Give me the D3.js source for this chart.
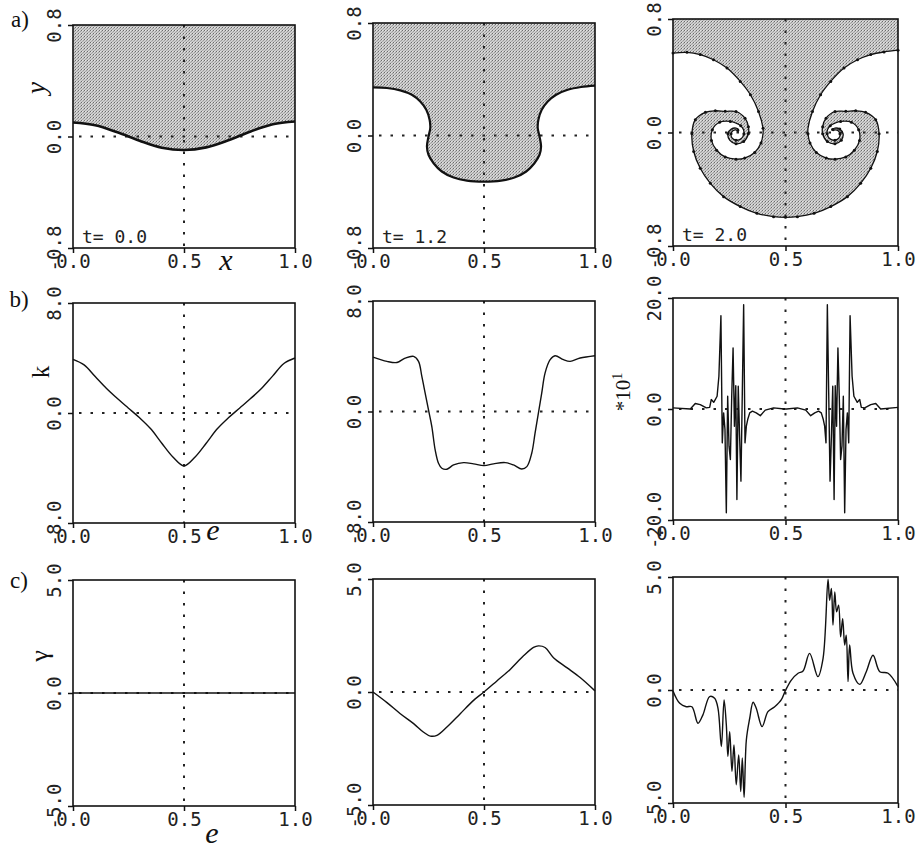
<!DOCTYPE html>
<html>
<head>
<meta charset="utf-8">
<script src="https://cdn.jsdelivr.net/npm/d3@7/dist/d3.min.js"></script>
<style>
  body { margin: 0; background: #fff; }
  svg { display: block; }
  .tick text { font-family: "DejaVu Sans Mono", monospace; font-size: 19px; fill: #222; }
  .lab { font-family: "Liberation Serif", serif; fill: #111; }
</style>
</head>
<body>
<svg id="fig" width="920" height="849"></svg>
<script>
// ---- values ----
var xTicks = ['0.0', '0.5', '1.0'];
var yTicksA = ['-0.8', '0.0', '0.8'];
var yTicksB = ['-8.0', '0.0', '8.0'];
var yTicksB3 = ['-20.0', '0.0', '20.0'];
var yTicksC = ['-5.0', '0.0', '5.0'];
var times = ['t= 0.0', 't= 1.2', 't= 2.0'];

// row a: interface (x, y)
var a1 = [[0, 0.10], [0.1, 0.08], [0.2, 0.03], [0.3, -0.03], [0.4, -0.08], [0.5, -0.097],
  [0.6, -0.078], [0.7, -0.027], [0.8, 0.036], [0.9, 0.088], [1, 0.108]];

var a2 = [[0, 0.342], [0.063, 0.338], [0.123, 0.321], [0.175, 0.290], [0.213, 0.242], [0.240, 0.183],
  [0.255, 0.112], [0.258, 0.053], [0.250, -0.007], [0.243, -0.078], [0.250, -0.137], [0.273, -0.197],
  [0.310, -0.256], [0.363, -0.299], [0.423, -0.321], [0.500, -0.328], [0.577, -0.321], [0.637, -0.299],
  [0.690, -0.256], [0.727, -0.197], [0.750, -0.137], [0.757, -0.078], [0.750, -0.007], [0.742, 0.053],
  [0.745, 0.112], [0.760, 0.183], [0.787, 0.242], [0.825, 0.290], [0.877, 0.325], [0.937, 0.345], [1, 0.355]];

var a3 = [[0.000, 0.560], [0.062, 0.565], [0.121, 0.549], [0.180, 0.513], [0.240, 0.454], [0.299, 0.360],
  [0.344, 0.266], [0.380, 0.148], [0.400, 0.030],
  [0.400, -0.009], [0.391, -0.074], [0.363, -0.141], [0.319, -0.180], [0.280, -0.188], [0.232, -0.172],
  [0.194, -0.125], [0.171, -0.056], [0.175, 0.020], [0.207, 0.072], [0.255, 0.078], [0.280, 0.066],
  [0.301, 0.048], [0.313, 0.021], [0.315, -0.009], [0.302, -0.045], [0.280, -0.054], [0.262, -0.038],
  [0.258, -0.009], [0.266, 0.013], [0.280, 0.019], [0.288, 0.014],
  [0.291, 0.021], [0.280, 0.031], [0.259, 0.024], [0.244, -0.009], [0.252, -0.054], [0.280, -0.080],
  [0.314, -0.064], [0.335, -0.009], [0.335, 0.041], [0.320, 0.101], [0.280, 0.148], [0.232, 0.149],
  [0.188, 0.153], [0.144, 0.142], [0.099, 0.090], [0.084, -0.009],
  [0.092, -0.134], [0.121, -0.252], [0.166, -0.358], [0.225, -0.452], [0.299, -0.522], [0.373, -0.570],
  [0.447, -0.593], [0.500, -0.598],
  [0.553, -0.593], [0.627, -0.570], [0.701, -0.522], [0.775, -0.452], [0.834, -0.358], [0.879, -0.252],
  [0.908, -0.134],
  [0.916, -0.009], [0.901, 0.090], [0.856, 0.142], [0.812, 0.153], [0.768, 0.149], [0.720, 0.148],
  [0.680, 0.101], [0.665, 0.041], [0.665, -0.009], [0.686, -0.064], [0.720, -0.080], [0.748, -0.054],
  [0.756, -0.009], [0.741, 0.024], [0.720, 0.031], [0.709, 0.021],
  [0.712, 0.014], [0.720, 0.019], [0.734, 0.013], [0.742, -0.009], [0.738, -0.038], [0.720, -0.054],
  [0.698, -0.045], [0.685, -0.009], [0.687, 0.021], [0.699, 0.048], [0.720, 0.066], [0.745, 0.078],
  [0.793, 0.072], [0.825, 0.020], [0.829, -0.056], [0.806, -0.125], [0.768, -0.172], [0.720, -0.188],
  [0.681, -0.180], [0.637, -0.141], [0.609, -0.074], [0.600, -0.009],
  [0.600, 0.030], [0.620, 0.148], [0.656, 0.266], [0.701, 0.360], [0.760, 0.454], [0.820, 0.513],
  [0.879, 0.549], [0.938, 0.568], [1.000, 0.580]];

// row b: curvature k against e
var b1e = [0, .05, .1, .15, .2, .25, .3, .35, .4, .45, .5, .55, .6, .65, .7, .75, .8, .85, .9, .95, 1];
var b1k = [3.9, 3.5, 2.65, 1.8, 1.05, 0.35, -0.35, -1.15, -2.2, -3.2, -3.85, -3.2, -2.2, -1.15, -0.35,
  0.35, 1.05, 1.8, 2.7, 3.6, 4.0];

var b2e = [0, 0.063, 0.108, 0.145, 0.183, 0.205, 0.220, 0.235, 0.250, 0.265, 0.280, 0.295, 0.310, 0.333,
  0.363, 0.408, 0.453, 0.5, 0.543, 0.595, 0.633, 0.67, 0.693, 0.715, 0.73, 0.745, 0.76, 0.775, 0.798,
  0.82, 0.858, 0.888, 0.933, 1.0];
var b2k = [3.94, 3.63, 3.55, 3.87, 3.99, 3.63, 2.54, 1.33, 0.12, -1.09, -2.78, -3.75, -4.11, -4.18,
  -3.87, -3.70, -3.79, -3.92, -3.79, -3.70, -3.87, -4.16, -3.99, -3.02, -1.57, -0.12, 1.33, 2.78, 3.75,
  4.04, 3.75, 3.63, 3.87, 4.04];

// b3 is in units of 10^1
var b3e = [0.000, 0.077, 0.099, 0.121, 0.148, 0.163, 0.170, 0.181, 0.196, 0.204, 0.213, 0.219, 0.225,
  0.231, 0.237, 0.243, 0.249, 0.255, 0.261, 0.267, 0.273, 0.279, 0.284, 0.290, 0.296, 0.302, 0.308,
  0.314, 0.320, 0.326, 0.332, 0.341, 0.353, 0.370, 0.388, 0.410, 0.447, 0.495,
  0.505, 0.553, 0.590, 0.612, 0.630, 0.647, 0.659, 0.668, 0.674, 0.680, 0.686, 0.692, 0.698, 0.704,
  0.710, 0.716, 0.721, 0.727, 0.733, 0.739, 0.745, 0.751, 0.757, 0.763, 0.769, 0.775, 0.781, 0.787,
  0.796, 0.804, 0.819, 0.830, 0.837, 0.852, 0.879, 0.901, 0.923, 1.000];
var b3k = [0.2, 0.0, 1.0, 0.8, 0.2, 0.3, 1.7, 1.2, 2.3, 5.9, 16.8, -6.1, -0.7, -3.7, -18.7, 2.3, -6.7,
  -9.1, 2.3, 11.0, -3.1, 4.2, -16.3, 4.1, -4.9, -13.0, 2.9, 18.8, -6.1, -3.1, -1.9, -0.7, -0.4, -0.7,
  -1.2, -0.2, 0.2, 0.0,
  0.0, 0.2, -0.2, -1.2, -0.7, -0.4, -0.7, -1.9, -3.1, -6.1, 18.8, 2.9, -13.0, -4.9, 4.1, -16.3, 4.2,
  -3.1, 11.0, 2.3, -9.1, -6.7, 2.3, -18.7, -3.7, -0.7, -6.1, 16.8, 5.9, 2.3, 1.2, 1.7, 0.3, 0.2, 0.8,
  1.0, 0.0, 0.3];

// row c: vortex sheet strength gamma against e
var c1e = [0, 1];
var c1g = [0, 0];

var c2e = [0, 0.063, 0.123, 0.183, 0.228, 0.258, 0.288, 0.333, 0.393, 0.453, 0.5, 0.558, 0.618, 0.678,
  0.723, 0.745, 0.775, 0.813, 0.873, 0.933, 1.0];
var c2g = [0.0, -0.47, -0.96, -1.40, -1.78, -1.95, -1.92, -1.55, -0.96, -0.37, 0.0, 0.49, 1.0, 1.60,
  1.97, 2.04, 1.97, 1.52, 1.08, 0.64, 0.05];

var c3e = [0.000, 0.030, 0.059, 0.084, 0.111, 0.133, 0.163, 0.185, 0.200, 0.215, 0.227, 0.237, 0.244,
  0.252, 0.262, 0.271, 0.281, 0.292, 0.301, 0.308, 0.316, 0.326, 0.341, 0.356, 0.370, 0.396, 0.422,
  0.452, 0.481, 0.499, 0.526, 0.556, 0.578, 0.607, 0.644, 0.667, 0.689, 0.696, 0.704, 0.711, 0.719,
  0.727, 0.736, 0.745, 0.754, 0.763, 0.770, 0.778, 0.785, 0.800, 0.830, 0.859, 0.889, 0.919, 0.956, 1.0];
var c3g = [-0.04, -0.59, -0.74, -0.74, -1.47, -1.10, -0.29, -0.37, -0.81, -2.50, -0.44, -1.54, -2.94,
  -1.84, -3.60, -2.43, -4.19, -2.87, -4.49, -3.01, -4.75, -2.21, -1.25, -0.54, -0.81, -1.62, -0.96,
  -0.74, -0.44, -0.04, 0.44, 0.74, 0.84, 1.62, 0.59, 1.40, 4.90, 3.97, 4.49, 2.87, 4.34, 3.46, 3.75,
  2.35, 3.16, 1.99, 2.43, 0.37, 1.99, 0.74, 0.25, 0.81, 1.54, 0.81, 0.74, 0.15];

// ---- layout ----
var L = [73, 373, 673], R = [295, 595, 898];
var T = [[25, 23, 19], [303, 301, 298], [580, 579, 577]];
var B = [[248, 248, 246], [523, 522, 520], [806, 805, 803]];

var svg = d3.select('#fig');

var defs = svg.append('defs');
var pat = defs.append('pattern').attr('id', 'stip')
  .attr('width', 3).attr('height', 3).attr('patternUnits', 'userSpaceOnUse');
pat.append('rect').attr('width', 3).attr('height', 3).attr('fill', '#cdcdcd');
pat.append('rect').attr('width', 1).attr('height', 1).attr('fill', '#6a6a6a');
pat.append('rect').attr('x', 2).attr('y', 1).attr('width', 1).attr('height', 1).attr('fill', '#999');
pat.append('rect').attr('x', 1).attr('y', 2).attr('width', 1).attr('height', 1).attr('fill', '#a6a6a6');
pat.append('rect').attr('x', 1).attr('y', 0).attr('width', 1).attr('height', 1).attr('fill', '#e4e4e4');

function panel(r, c, lim, yTicks) {
  var x = d3.scaleLinear().domain([0, 1]).range([L[c], R[c]]);
  var y = d3.scaleLinear().domain([-lim, lim]).range([B[r][c], T[r][c]]);
  var g = svg.append('g');
  return { g: g, x: x, y: y, r: r, c: c, lim: lim, yTicks: yTicks };
}

function guides(p) {
  p.g.append('line')
    .attr('x1', p.x(0.5)).attr('x2', p.x(0.5)).attr('y1', p.y(p.lim)).attr('y2', p.y(-p.lim))
    .attr('stroke', '#222').attr('stroke-width', 2).attr('stroke-dasharray', '2.5,9');
  p.g.append('line')
    .attr('x1', p.x(0)).attr('x2', p.x(1)).attr('y1', p.y(0)).attr('y2', p.y(0))
    .attr('stroke', '#222').attr('stroke-width', 2).attr('stroke-dasharray', '2.5,9')
    .attr('stroke-dashoffset', -6);
}

function frame(p) {
  p.g.append('rect')
    .attr('x', L[p.c]).attr('y', T[p.r][p.c])
    .attr('width', R[p.c] - L[p.c]).attr('height', B[p.r][p.c] - T[p.r][p.c])
    .attr('fill', 'none').attr('stroke', '#111').attr('stroke-width', 1.6);

  var ay = p.g.append('g').attr('transform', 'translate(' + L[p.c] + ',0)')
    .call(d3.axisLeft(p.y).tickValues([-p.lim, 0, p.lim])
      .tickFormat(function (d, i) { return p.yTicks[i]; }).tickSize(5));
  ay.select('.domain').remove();
  ay.selectAll('line').attr('stroke', '#111').attr('stroke-width', 1.5);
  ay.selectAll('text').attr('transform', 'rotate(-90)')
    .attr('x', 0).attr('y', -12).attr('dy', 0).attr('text-anchor', 'middle');

  var ax = p.g.append('g').attr('transform', 'translate(0,' + B[p.r][p.c] + ')')
    .call(d3.axisBottom(p.x).tickValues([0, 0.5, 1])
      .tickFormat(function (d, i) { return xTicks[i]; }).tickSize(5));
  ax.select('.domain').remove();
  ax.selectAll('line').attr('stroke', '#111').attr('stroke-width', 1.5);
  ax.selectAll('text').attr('y', 20).attr('dy', 0);
}

// ---- row a: interfaces with heavy fluid shaded ----
var widthA = [2.6, 2.2, 1.3];
[a1, a2, a3].forEach(function (pts, c) {
  var p = panel(0, c, 0.8, yTicksA);
  var line = d3.line().x(function (d) { return p.x(d[0]); }).y(function (d) { return p.y(d[1]); })
    .curve(d3.curveCatmullRom.alpha(0.5));
  var top = line(pts) + 'L' + p.x(1) + ',' + p.y(0.8) + 'L' + p.x(0) + ',' + p.y(0.8) + 'Z';
  p.g.append('path').attr('d', top).attr('fill', 'url(#stip)').attr('stroke', 'none');
  guides(p);
  p.g.append('path').attr('d', line(pts)).attr('fill', 'none')
    .attr('stroke', '#111').attr('stroke-width', widthA[c]);
  if (c === 2) {
    // marker dots on the interface nodes, thinned where they crowd together
    var last = null;
    var nodes = pts.filter(function (d) {
      var px = p.x(d[0]), py = p.y(d[1]);
      if (last && Math.hypot(px - last[0], py - last[1]) < 7) return false;
      last = [px, py];
      return true;
    });
    p.g.selectAll('circle.node').data(nodes).enter().append('circle')
      .attr('class', 'node').attr('cx', function (d) { return p.x(d[0]); })
      .attr('cy', function (d) { return p.y(d[1]); }).attr('r', 1.5).attr('fill', '#111');
  }
  frame(p);
  p.g.append('text').attr('x', L[c] + 9).attr('y', B[0][c] - 5)
    .attr('font-family', '"DejaVu Sans Mono", monospace').attr('font-size', 18).attr('fill', '#222')
    .text(times[c]);
});

// ---- rows b and c: line plots ----
function plot(r, c, lim, yTicks, es, vs, curve) {
  var p = panel(r, c, lim, yTicks);
  guides(p);
  var pts = es.map(function (e, i) { return [e, vs[i]]; });
  var line = d3.line().x(function (d) { return p.x(d[0]); }).y(function (d) { return p.y(d[1]); })
    .curve(curve);
  p.g.append('path').attr('d', line(pts)).attr('fill', 'none')
    .attr('stroke', '#111').attr('stroke-width', 1.4).attr('stroke-linejoin', 'round');
  frame(p);
}

var smooth = d3.curveCatmullRom.alpha(0.5);
plot(1, 0, 8, yTicksB, b1e, b1k, smooth);
plot(1, 1, 8, yTicksB, b2e, b2k, smooth);
plot(1, 2, 20, yTicksB3, b3e, b3k, d3.curveLinear);
plot(2, 0, 5, yTicksC, c1e, c1g, d3.curveLinear);
plot(2, 1, 5, yTicksC, c2e, c2g, smooth);
plot(2, 2, 5, yTicksC, c3e, c3g, smooth);

// ---- labels ----
function lab(txt, x, y, size, opts) {
  opts = opts || {};
  var t = svg.append('text').attr('class', 'lab').attr('font-size', size)
    .attr('font-style', opts.italic ? 'italic' : 'normal')
    .attr('text-anchor', 'middle');
  if (opts.rot) t.attr('transform', 'translate(' + x + ',' + y + ') rotate(-90)');
  else t.attr('x', x).attr('y', y);
  t.text(txt);
  return t;
}
lab('a)', 20, 27, 23);
lab('b)', 19, 307, 23);
lab('c)', 19, 588, 23);
lab('y', 45, 88, 27, { italic: true, rot: true });
lab('x', 226, 270, 30, { italic: true });
lab('k', 49, 372, 25, { rot: true });
lab('e', 213, 540, 30, { italic: true });
lab('γ', 48, 656, 26, { rot: true });
lab('e', 212, 843, 30, { italic: true });

var sc = svg.append('text').attr('class', 'lab').attr('font-size', 21)
  .attr('text-anchor', 'middle').attr('transform', 'translate(630,392) rotate(-90)');
sc.append('tspan').text('*10');
sc.append('tspan').attr('font-size', 14).attr('dy', -8).text('1');
</script>
</body>
</html>
